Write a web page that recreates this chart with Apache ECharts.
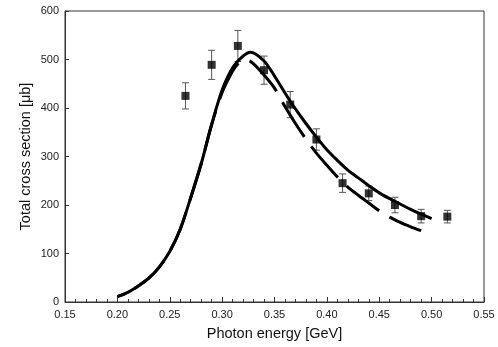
<!DOCTYPE html>
<html>
<head>
<meta charset="utf-8">
<script src="https://cdn.jsdelivr.net/npm/echarts@6/dist/echarts.min.js"></script>
<style>
  html, body { margin: 0; padding: 0; background: #fff; }
  #main { width: 498px; height: 347px; }
</style>
</head>
<body>
<div id="main"></div>
<script>
// measured points (photon energy in GeV, cross section in µb)
const energies = [0.265, 0.29, 0.315, 0.34, 0.365, 0.39, 0.415, 0.44, 0.465, 0.49, 0.515];
const sigma = [425, 489, 528, 478, 407, 335, 245, 224, 200, 177, 176];
const sigmaErr = [27, 30, 32, 29, 27, 22, 19, 15, 16, 14, 13];

// model curves
const solidX = [0.20, 0.21, 0.22, 0.23, 0.24, 0.25, 0.26, 0.27, 0.28, 0.29, 0.30, 0.31, 0.32, 0.327, 0.34, 0.35, 0.36, 0.37, 0.38, 0.39, 0.40, 0.41, 0.42, 0.43, 0.44, 0.45, 0.46, 0.47, 0.48, 0.49, 0.50];
const solidY = [11, 20, 33, 49, 72, 104, 150, 215, 285, 366, 437, 483, 507, 515, 497, 466, 431, 398, 368, 340, 314, 292, 272, 256, 240, 225, 213, 202, 191, 181, 172];
const dashX = [0.20, 0.21, 0.22, 0.23, 0.24, 0.25, 0.26, 0.27, 0.28, 0.29, 0.30, 0.31, 0.315, 0.32, 0.325, 0.33, 0.34, 0.35, 0.36, 0.37, 0.38, 0.39, 0.40, 0.41, 0.42, 0.43, 0.44, 0.45, 0.46, 0.47, 0.48, 0.49];
const dashY = [11, 20, 33, 49, 72, 104, 150, 215, 285, 366, 432, 476, 491, 498, 498, 491, 468, 441, 403, 368, 336, 307, 282, 258, 237, 220, 204, 188, 175, 164, 155, 147];

const xTicks = [0.15, 0.55, 0.05];
const yTicks = [0, 600, 100];

const zip = (xs, ys) => xs.map((x, i) => [x, ys[i]]);

const font = 'Liberation Sans, Arial, sans-serif';
const dash = [41, 12];
const chart = echarts.init(document.getElementById('main'));

chart.setOption({
  animation: false,
  grid: {
    left: 65, right: 14, top: 11, bottom: 45,
    show: true, borderColor: '#333', borderWidth: 1
  },
  xAxis: {
    type: 'value',
    min: xTicks[0], max: xTicks[1], interval: xTicks[2],
    name: 'Photon energy [GeV]',
    nameLocation: 'middle',
    nameGap: 24,
    nameMoveOverlap: false,
    nameTextStyle: { fontFamily: font, fontSize: 14.5, color: '#111' },
    axisLine: { lineStyle: { color: '#333' } },
    axisTick: { inside: true, length: 5, lineStyle: { color: '#333' } },
    minorTick: { show: true, splitNumber: 5, length: 3, lineStyle: { color: '#333' } },
    splitLine: { show: false },
    axisLabel: { fontFamily: font, fontSize: 11, color: '#222', margin: 7, formatter: v => v.toFixed(2) }
  },
  yAxis: {
    type: 'value',
    min: yTicks[0], max: yTicks[1], interval: yTicks[2],
    name: 'Total cross section [\u03bcb]',
    nameLocation: 'middle',
    nameGap: 32,
    nameMoveOverlap: false,
    nameTextStyle: { fontFamily: font, fontSize: 14.5, color: '#111' },
    axisLine: { show: true, lineStyle: { color: '#333' } },
    axisTick: { show: true, inside: true, length: 4, lineStyle: { color: '#333' } },
    splitLine: { show: false },
    axisLabel: { fontFamily: font, fontSize: 11, color: '#222', margin: 6 }
  },
  series: [
    {
      type: 'line',
      data: zip(dashX, dashY),
      smooth: 0.3,
      showSymbol: false,
      lineStyle: { color: '#000', width: 3, type: dash, dashOffset: 0 }
    },
    {
      type: 'line',
      data: zip(solidX, solidY),
      smooth: 0.3,
      showSymbol: false,
      lineStyle: { color: '#000', width: 3 }
    },
    {
      type: 'custom',
      data: energies.map((x, i) => [x, sigma[i] - sigmaErr[i], sigma[i] + sigmaErr[i]]),
      renderItem: (params, api) => {
        const lo = api.coord([api.value(0), api.value(1)]);
        const hi = api.coord([api.value(0), api.value(2)]);
        const cap = 3.5;
        const style = { stroke: '#555', lineWidth: 1 };
        return {
          type: 'group',
          children: [
            { type: 'line', shape: { x1: lo[0], y1: lo[1], x2: hi[0], y2: hi[1] }, style },
            { type: 'line', shape: { x1: lo[0] - cap, y1: lo[1], x2: lo[0] + cap, y2: lo[1] }, style },
            { type: 'line', shape: { x1: hi[0] - cap, y1: hi[1], x2: hi[0] + cap, y2: hi[1] }, style }
          ]
        };
      },
      z: 3
    },
    {
      type: 'scatter',
      data: zip(energies, sigma),
      symbol: 'rect',
      symbolSize: 8,
      itemStyle: { color: '#000' },
      z: 4
    }
  ]
});

// line the dash pattern up so a gap starts just past 0.352 GeV, as in the original
const gapAt = 0.352;
let len = 0;
let prev = chart.convertToPixel({ gridIndex: 0 }, [dashX[0], dashY[0]]);
for (let i = 1; i < dashX.length; i++) {
  const endX = Math.min(dashX[i], gapAt);
  const t = (endX - dashX[i - 1]) / (dashX[i] - dashX[i - 1]);
  const p = chart.convertToPixel({ gridIndex: 0 }, [endX, dashY[i - 1] + t * (dashY[i] - dashY[i - 1])]);
  len += Math.hypot(p[0] - prev[0], p[1] - prev[1]);
  prev = p;
  if (dashX[i] >= gapAt) break;
}
const period = dash[0] + dash[1];
const offset = ((dash[0] - len) % period + period) % period;
chart.setOption({ series: [{ lineStyle: { dashOffset: offset } }] });
</script>
</body>
</html>
